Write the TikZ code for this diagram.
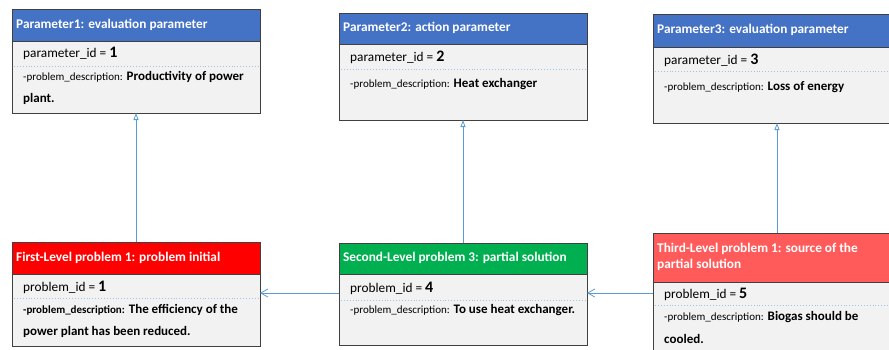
\documentclass[tikz,border=0pt]{standalone}
\usepackage{fontspec}
\setmainfont{Carlito}
\usetikzlibrary{arrows.meta}
\definecolor{hblue}{HTML}{4472C4}
\definecolor{hred}{HTML}{FF0000}
\definecolor{hgreen}{HTML}{00B050}
\definecolor{hlred}{HTML}{FF5B5B}
\definecolor{bodyfill}{HTML}{F2F2F2}
\definecolor{bordergray}{HTML}{404040}
\definecolor{linkblue}{HTML}{5B9BD5}
\definecolor{dotblue}{HTML}{9DC3E6}
\tikzset{
  boxpart/.style={draw=bordergray, line width=0.9pt, anchor=north west, inner sep=0, outer sep=0, minimum width=248pt},
  headbox/.style={boxpart, fill=#1},
  bodybox/.style={boxpart, fill=bodyfill},
  headtxt/.style={anchor=west, inner sep=0, text=white, font=\fontsize{13.3}{16}\selectfont\bfseries, align=left},
  idtxt/.style={anchor=west, inner sep=0, font=\fontsize{13.3}{16}\selectfont},
  desctxt/.style={anchor=west, inner sep=0, font=\fontsize{13}{16}\selectfont\bfseries},
  sepline/.style={draw=dotblue, line width=0.9pt, dotted},
  uplink/.style={draw=linkblue, line width=0.8pt, -{Triangle[open, width=5pt, length=7pt]}},
  sidelink/.style={draw=linkblue, line width=0.8pt, -{Straight Barb[width=8pt, length=7pt]}}
}
\newcommand{\smalllbl}{\fontsize{11}{13}\selectfont\mdseries}
\newcommand{\bignum}[1]{\textbf{\fontsize{16}{16}\selectfont #1}}
\begin{document}
\begin{tikzpicture}[x=1pt, y=-1pt]
\useasboundingbox (0,0) rectangle (889,349);
% Box 1
\node[bodybox, minimum height=72pt] (b1) at (12,41) {};
\node[headbox=hblue, minimum height=32pt] (h1) at (12,9) {};
\node[headtxt] (t1) at (16,24.5) {Parameter1: evaluation parameter};
\node[idtxt] (i1) at (23,53) {parameter\_id = \bignum{1}};
\draw[sepline] (14,66) -- (258,66);
\node[desctxt] (d1a) at (23,77) {{\smalllbl -problem\_description:} Productivity of power};
\node[desctxt] (d1b) at (23,99) {plant.};
% Box 2
\node[bodybox, minimum height=76pt] (b2) at (339,44) {};
\node[headbox=hblue, minimum height=31pt] (h2) at (339,13) {};
\node[headtxt] (t2) at (343,28) {Parameter2: action parameter};
\node[idtxt] (i2) at (350,57.5) {parameter\_id = \bignum{2}};
\draw[sepline] (341,69) -- (585,69);
\node[desctxt] (d2a) at (350,84) {{\smalllbl -problem\_description:} Heat exchanger};
% Box 3
\node[bodybox, minimum height=76pt] (b3) at (653,47) {};
\node[headbox=hblue, minimum height=33pt] (h3) at (653,14) {};
\node[headtxt] (t3) at (657,30) {Parameter3: evaluation parameter};
\node[idtxt] (i3) at (664,60) {parameter\_id = \bignum{3}};
\draw[sepline] (655,71) -- (899,71);
\node[desctxt] (d3a) at (664,87) {{\smalllbl -problem\_description:} Loss of energy};
% Box 4
\node[bodybox, minimum height=72pt] (b4) at (12,274) {};
\node[headbox=hred, minimum height=32pt] (h4) at (12,242) {};
\node[headtxt] (t4) at (16,257.5) {First-Level problem 1: problem initial};
\node[idtxt] (i4) at (23,287) {problem\_id = \bignum{1}};
\draw[sepline] (14,298) -- (258,298);
\node[desctxt] (d4a) at (23,310) {{\fontsize{11}{13}\selectfont -problem\_description:} The efficiency of the};
\node[desctxt] (d4b) at (23,332) {power plant has been reduced.};
% Box 5
\node[bodybox, minimum height=71pt] (b5) at (339,274) {};
\node[headbox=hgreen, minimum height=31pt] (h5) at (339,243) {};
\node[headtxt] (t5) at (343,258) {Second-Level problem 3: partial solution};
\node[idtxt] (i5) at (350,288) {problem\_id = \bignum{4}};
\draw[sepline] (341,300) -- (585,300);
\node[desctxt] (d5a) at (350,310) {{\smalllbl -problem\_description:} To use heat exchanger.};
% Box 6
\node[bodybox, minimum height=80pt] (b6) at (653,282) {};
\node[headbox=hlred, minimum height=49pt] (h6) at (653,233) {};
\node[headtxt] (t6) at (657,256.5) {Third-Level problem 1: source of the\\partial solution};
\node[idtxt] (i6) at (664,294) {problem\_id = \bignum{5}};
\draw[sepline] (655,305) -- (899,305);
\node[desctxt] (d6a) at (664,317) {{\smalllbl -problem\_description:} Biogas should be};
\node[desctxt] (d6b) at (664,339) {cooled.};
% Connectors
\coordinate (row) at (0,293);
\draw[uplink] (h4.north) -- (b1.south);
\draw[uplink] (h5.north) -- (b2.south);
\draw[uplink] (h6.north) -- (b3.south);
\draw[sidelink] (b5.west |- row) -- (b4.east |- row);
\draw[sidelink] (b6.west |- row) -- (b5.east |- row);
\end{tikzpicture}
\end{document}
